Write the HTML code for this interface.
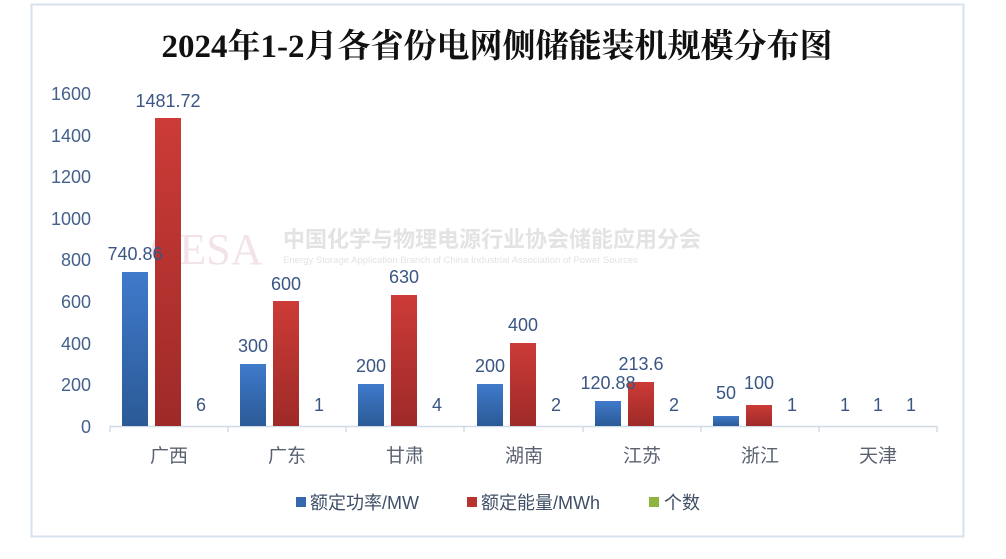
<!DOCTYPE html>
<html><head><meta charset="utf-8"><style>
body{margin:0;background:#fff;}
svg{display:block;}
</style></head><body>
<svg width="1006" height="559" xmlns="http://www.w3.org/2000/svg" font-family="Liberation Sans, Noto Sans CJK SC, sans-serif">
<defs>
<linearGradient id="gb" x1="0" y1="0" x2="0" y2="1"><stop offset="0" stop-color="#3f7acb"/><stop offset="1" stop-color="#2b5a96"/></linearGradient>
<linearGradient id="gr" x1="0" y1="0" x2="0" y2="1"><stop offset="0" stop-color="#cc3b37"/><stop offset="1" stop-color="#9e2a28"/></linearGradient>
</defs>
<rect x="31.5" y="4.5" width="932" height="532" fill="#fff" stroke="#d6e2ee" stroke-width="2"/>
<text x="497" y="57" text-anchor="middle" font-family="Liberation Serif, Noto Serif CJK SC, serif" font-weight="bold" font-size="33" fill="#111">2024年1-2月各省份电网侧储能装机规模分布图</text>
<g font-size="18" fill="#44618c" text-anchor="end">
<text x="91" y="100">1600</text><text x="91" y="142">1400</text><text x="91" y="183">1200</text><text x="91" y="225">1000</text><text x="91" y="266">800</text><text x="91" y="308">600</text><text x="91" y="350">400</text><text x="91" y="391">200</text><text x="91" y="433">0</text>
</g>
<text x="150" y="264" font-family="Liberation Serif, serif" font-size="44" fill="#f0dde4" opacity="0.8">CESA</text>
<text x="283" y="247" font-size="22" fill="#e3e3e3" font-weight="bold">中国化学与物理电源行业协会储能应用分会</text>
<text x="283" y="263" font-size="9.5" fill="#e3e3e3">Energy Storage Application Branch of China Industrial Association of Power Sources</text>
<line x1="110" y1="426.5" x2="937" y2="426.5" stroke="#d0dbe8" stroke-width="1.5"/>
<g stroke="#d0dbe8" stroke-width="1.5">
<line x1="110" y1="426" x2="110" y2="432"/><line x1="228" y1="426" x2="228" y2="432"/><line x1="346" y1="426" x2="346" y2="432"/><line x1="464" y1="426" x2="464" y2="432"/><line x1="583" y1="426" x2="583" y2="432"/><line x1="701" y1="426" x2="701" y2="432"/><line x1="819" y1="426" x2="819" y2="432"/><line x1="937" y1="426" x2="937" y2="432"/>
</g>
<g>
<rect x="122" y="272" width="26" height="154" fill="url(#gb)"/><rect x="155" y="118" width="26" height="308" fill="url(#gr)"/>
<rect x="240" y="364" width="26" height="62" fill="url(#gb)"/><rect x="273" y="301" width="26" height="125" fill="url(#gr)"/>
<rect x="358" y="384" width="26" height="42" fill="url(#gb)"/><rect x="391" y="295" width="26" height="131" fill="url(#gr)"/>
<rect x="477" y="384" width="26" height="42" fill="url(#gb)"/><rect x="510" y="343" width="26" height="83" fill="url(#gr)"/>
<rect x="595" y="401" width="26" height="25" fill="url(#gb)"/><rect x="628" y="382" width="26" height="44" fill="url(#gr)"/>
<rect x="713" y="416" width="26" height="10" fill="url(#gb)"/><rect x="746" y="405" width="26" height="21" fill="url(#gr)"/>
</g>
<g font-size="18" fill="#3a5684" text-anchor="middle">
<text x="135" y="260">740.86</text><text x="168" y="107">1481.72</text><text x="201" y="411">6</text>
<text x="253" y="352">300</text><text x="286" y="290">600</text><text x="319" y="411">1</text>
<text x="371" y="372">200</text><text x="404" y="283">630</text><text x="437" y="411">4</text>
<text x="490" y="372">200</text><text x="523" y="331">400</text><text x="556" y="411">2</text>
<text x="608" y="389">120.88</text><text x="641" y="370">213.6</text><text x="674" y="411">2</text>
<text x="726" y="399">50</text><text x="759" y="389">100</text><text x="792" y="411">1</text>
<text x="845" y="411">1</text><text x="878" y="411">1</text><text x="911" y="411">1</text>
</g>
<g font-size="19" fill="#5a6272" text-anchor="middle">
<text x="169" y="462">广西</text><text x="287" y="462">广东</text><text x="405" y="462">甘肃</text><text x="524" y="462">湖南</text><text x="642" y="462">江苏</text><text x="760" y="462">浙江</text><text x="878" y="462">天津</text>
</g>
<g font-size="18" fill="#3f4f66">
<rect x="296" y="497" width="10" height="10" fill="#3568ad"/><text x="310" y="509">额定功率/MW</text>
<rect x="467" y="497" width="10" height="10" fill="#b83230"/><text x="481" y="509">额定能量/MWh</text>
<rect x="649" y="497" width="10" height="10" fill="#8db43f"/><text x="664" y="509">个数</text>
</g>
</svg>
</body></html>
